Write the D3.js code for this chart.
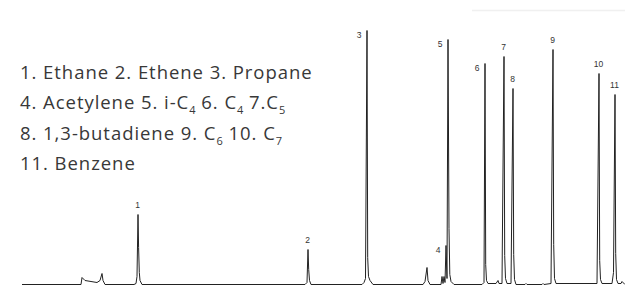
<!DOCTYPE html>
<html>
<head>
<meta charset="utf-8">
<script src="https://cdn.jsdelivr.net/npm/d3@7"></script>
<style>
  html, body { margin: 0; padding: 0; background: #fff; }
  svg { display: block; }
</style>
</head>
<body>
<svg id="chart"></svg>
<script>
// retention time (s) / detector response
const traceTime = [
  0, 59, 60, 63, 75, 78, 80, 81, 83,
  112, 114, 115, 116, 116.6, 117.3, 118, 120,
  283, 285, 286, 286.7, 287.5, 289,
  340, 342, 343.5, 345, 345.7, 346.5, 348, 351,
  401, 403, 405, 406, 408,
  419, 420, 421, 422, 423, 424, 425, 426, 427, 427.8, 429, 432,
  460, 462, 463, 463.7, 464.5, 466,
  474, 476, 477,
  480, 482, 482.7, 483.5, 485,
  489, 491, 491.7, 492.5, 494,
  503, 504, 505, 520, 521, 522,
  529, 531, 531.7, 532.5, 534,
  575, 577, 577.7, 578.5, 580,
  590, 591.5, 593, 593.7, 594.5, 596, 599, 600, 603,
];
const traceSignal = [
  0, 0, 7, 4, 2, 4, 11, 4, 0,
  0, 1, 8, 70, 37, 12, 4, 0,
  0, 2, 35, 15, 4, 0,
  0, 2, 6, 254, 27, 8, 4, 0,
  0, 3, 17, 4, 0,
  0, 8, 1, 8, 2, 39, 6, 245, 56, 10, 3, 0,
  0, 2, 221, 20, 4, 1,
  1, 4, 1,
  1, 228, 29, 6, 1,
  1, 196, 30, 5, 0,
  0, 1, 0, 0, 1, 0,
  1, 235, 40, 6, 1,
  1, 211, 24, 5, 1,
  1, 12, 190, 31, 5, 1, 1, 3, 0,
];

const peakNumbers = ['1', '2', '3', '4', '5', '6', '7', '8', '9', '10', '11'];
const peakTimes = [116, 286, 345, 424, 426, 463, 482, 491, 531, 577, 593];
const peakHeights = [70, 35, 254, 39, 245, 221, 228, 196, 235, 211, 190];
const peakLabelSide = ['top', 'top', 'left', 'left', 'left', 'left', 'top', 'top', 'top', 'top', 'top'];

const legendLines = [
  [['1. Ethane 2. Ethene 3. Propane']],
  [['4. Acetylene 5. i-C'], ['4', 'sub'], [' 6. C'], ['4', 'sub'], [' 7.C'], ['5', 'sub']],
  [['8. 1,3-butadiene 9. C'], ['6', 'sub'], [' 10. C'], ['7', 'sub']],
  [['11. Benzene']],
];

const W = 625, H = 287;
const svg = d3.select('#chart').attr('width', W).attr('height', H);

const x = d3.scaleLinear([0, 603], [22, 625]);
const y = d3.scaleLinear([0, 255], [284.5, 29.5]);

// faint scan edge at the top right
svg.append('line')
  .attr('x1', 472).attr('x2', W).attr('y1', 10.5).attr('y2', 10.5)
  .attr('stroke', '#f0f0f0').attr('stroke-width', 1.5);

const trace = d3.zip(traceTime, traceSignal);
const line = d3.line().x((d) => x(d[0])).y((d) => y(d[1]));

svg.append('path')
  .datum(trace)
  .attr('d', line)
  .attr('fill', 'none')
  .attr('stroke', '#222')
  .attr('stroke-width', 1)
  .attr('stroke-linejoin', 'miter');

// peak numbers
const peaks = d3.zip(peakNumbers, peakTimes, peakHeights, peakLabelSide);
svg.append('g')
  .selectAll('text')
  .data(peaks)
  .join('text')
  .attr('x', (d) => x(d[1]) + (d[3] === 'left' ? -8 : -0.5))
  .attr('y', (d) => y(d[2]) + (d[3] === 'left' ? 4 : -10))
  .attr('text-anchor', 'middle')
  .attr('dominant-baseline', 'central')
  .attr('font-family', '"Liberation Sans", Arial, sans-serif')
  .attr('font-size', 8.5)
  .attr('fill', '#333')
  .text((d) => d[0]);

// compound key
const legend = svg.append('g')
  .attr('font-family', '"Open Sans", sans-serif')
  .attr('font-size', 18.5)
  .attr('letter-spacing', 0.95)
  .attr('fill', '#383838');

legendLines.forEach((parts, i) => {
  const t = legend.append('text')
    .attr('x', 20)
    .attr('y', 79 + i * 30.3);
  let shift = 0;
  parts.forEach(([str, kind]) => {
    const sub = kind === 'sub';
    const dy = (sub ? 5 : 0) - shift;
    shift = sub ? 5 : 0;
    const span = t.append('tspan').attr('dy', dy).text(str);
    if (sub) span.attr('font-size', 11).attr('letter-spacing', 0);
  });
});
</script>
</body>
</html>
